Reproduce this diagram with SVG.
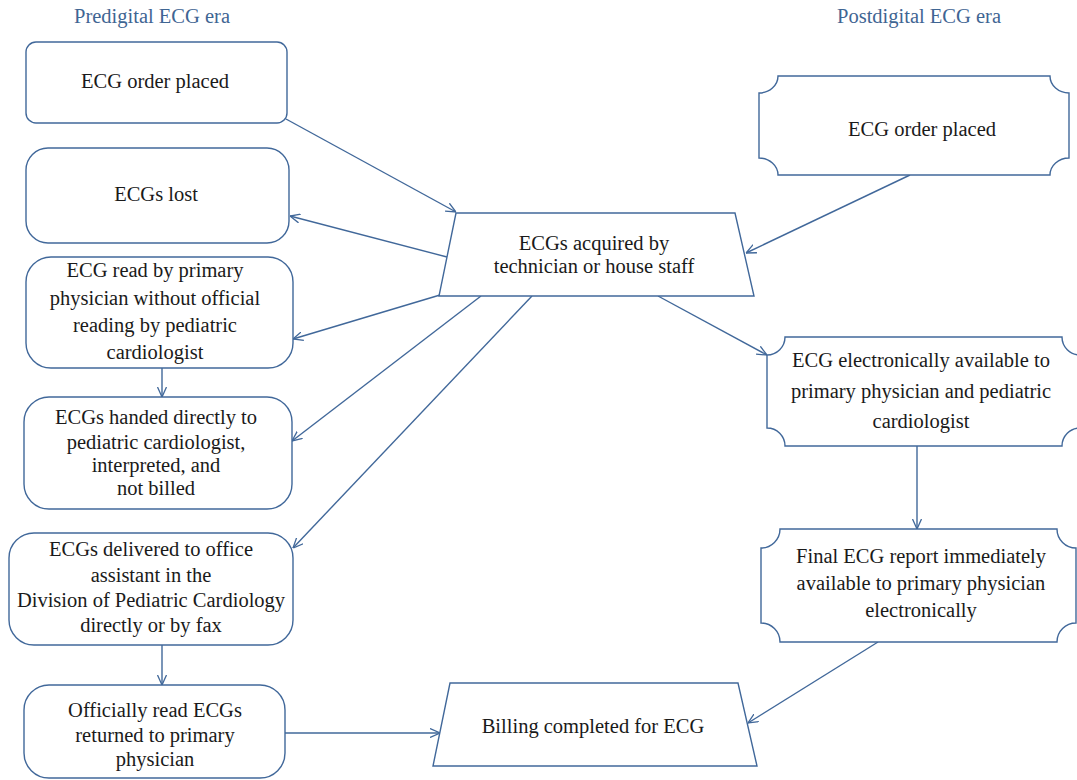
<svg xmlns="http://www.w3.org/2000/svg" width="1077" height="780" viewBox="0 0 1077 780">
<style>
  .box { fill: #ffffff; stroke: #41689a; stroke-width: 1.4; }
  .t { font-family: "Liberation Serif", "Times New Roman", serif; font-size: 20.5px; fill: #1a1a1a; text-anchor: middle; }
  .title { font-family: "Liberation Serif", "Times New Roman", serif; font-size: 20.5px; fill: #3f6593; text-anchor: middle; }
  .conn { fill: none; stroke: #41689a; stroke-width: 1.4; marker-end: url(#arr); }
</style>
<defs>
  <marker id="arr" viewBox="0 0 10 10" refX="10" refY="5" markerWidth="10" markerHeight="10" markerUnits="userSpaceOnUse" orient="auto">
    <path d="M0,0.5 L10,5 L0,9.5" fill="none" stroke="#41689a" stroke-width="1.3"/>
  </marker>
</defs>
<rect width="1077" height="780" fill="#ffffff"/>

<g id="title-pre"><text class="title" x="152" y="23">Predigital ECG era</text></g>
<g id="title-post"><text class="title" x="919" y="23">Postdigital ECG era</text></g>

<g id="connectors">
  <line class="conn" x1="286" y1="119" x2="456" y2="212"/>
  <line class="conn" x1="447" y1="257" x2="290" y2="216"/>
  <line class="conn" x1="440" y1="295" x2="293" y2="339"/>
  <line class="conn" x1="481" y1="296" x2="292" y2="441"/>
  <line class="conn" x1="532" y1="296" x2="293" y2="548"/>
  <line class="conn" x1="162" y1="368" x2="162" y2="397"/>
  <line class="conn" x1="162" y1="645" x2="162" y2="685"/>
  <line class="conn" x1="285" y1="733" x2="440" y2="733"/>
  <line class="conn" x1="910" y1="175" x2="746" y2="253"/>
  <line class="conn" x1="658" y1="296" x2="767" y2="355"/>
  <line class="conn" x1="917" y1="446" x2="917" y2="529"/>
  <line class="conn" x1="878" y1="642" x2="748" y2="723"/>
</g>

<g id="n-order-pre">
  <rect class="box" x="26" y="42" width="261" height="81" rx="10"/>
  <text class="t" x="155" y="88">ECG order placed</text>
</g>
<g id="n-lost">
  <rect class="box" x="26" y="148" width="263" height="95" rx="22"/>
  <text class="t" x="156" y="201">ECGs lost</text>
</g>
<g id="n-read-primary">
  <rect class="box" x="26" y="257" width="267" height="111" rx="25"/>
  <text class="t" x="155" y="277">ECG read by primary</text>
  <text class="t" x="155" y="305">physician without official</text>
  <text class="t" x="155" y="332">reading by pediatric</text>
  <text class="t" x="155" y="359">cardiologist</text>
</g>
<g id="n-handed">
  <rect class="box" x="24" y="397" width="268" height="112" rx="25"/>
  <text class="t" x="156" y="424">ECGs handed directly to</text>
  <text class="t" x="156" y="449">pediatric cardiologist,</text>
  <text class="t" x="156" y="472">interpreted, and</text>
  <text class="t" x="156" y="495">not billed</text>
</g>
<g id="n-delivered">
  <rect class="box" x="9" y="533" width="284" height="112" rx="25"/>
  <text class="t" x="151" y="556">ECGs delivered to office</text>
  <text class="t" x="151" y="582">assistant in the</text>
  <text class="t" x="151" y="607">Division of Pediatric Cardiology</text>
  <text class="t" x="151" y="632">directly or by fax</text>
</g>
<g id="n-returned">
  <rect class="box" x="24" y="685" width="261" height="93" rx="25"/>
  <text class="t" x="155" y="717">Officially read ECGs</text>
  <text class="t" x="155" y="742">returned to primary</text>
  <text class="t" x="155" y="766">physician</text>
</g>

<g id="n-acquired">
  <polygon class="box" points="456,213 735,213 754,296 439,296"/>
  <text class="t" x="594" y="250">ECGs acquired by</text>
  <text class="t" x="594" y="273">technician or house staff</text>
</g>
<g id="n-billing">
  <polygon class="box" points="450,683 738,683 757,766 433,766"/>
  <text class="t" x="593" y="733">Billing completed for ECG</text>
</g>

<g id="n-order-post">
  <path class="box" d="M778,76 L1050,76 A19,17 0 0 0 1069,93 L1069,158 A19,17 0 0 0 1050,175 L778,175 A19,17 0 0 0 759,158 L759,93 A19,17 0 0 0 778,76 Z"/>
  <text class="t" x="922" y="136">ECG order placed</text>
</g>
<g id="n-electronic">
  <path class="box" d="M785,337 L1062,337 A18,18 0 0 0 1080,355 L1080,428 A18,18 0 0 0 1062,446 L785,446 A18,18 0 0 0 767,428 L767,355 A18,18 0 0 0 785,337 Z"/>
  <text class="t" x="921" y="367">ECG electronically available to</text>
  <text class="t" x="921" y="398">primary physician and pediatric</text>
  <text class="t" x="921" y="428">cardiologist</text>
</g>
<g id="n-final">
  <path class="box" d="M780,529 L1057,529 A19,19 0 0 0 1076,548 L1076,623 A19,19 0 0 0 1057,642 L780,642 A19,19 0 0 0 761,623 L761,548 A19,19 0 0 0 780,529 Z"/>
  <text class="t" x="921" y="563">Final ECG report immediately</text>
  <text class="t" x="921" y="590">available to primary physician</text>
  <text class="t" x="921" y="617">electronically</text>
</g>
</svg>
